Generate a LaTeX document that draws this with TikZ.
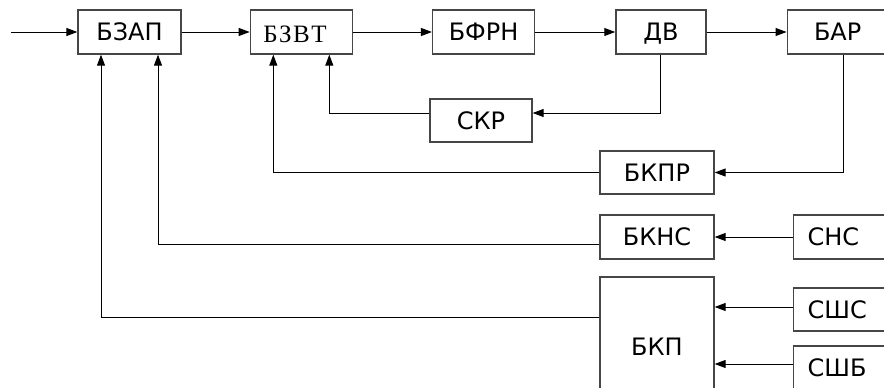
\documentclass[tikz,border=0pt]{standalone}
\usepackage{fontspec}
\setmainfont{DejaVu Sans}
\newfontfamily\serifcyr{Liberation Serif}
\usepackage{tikz}
\usetikzlibrary{positioning,arrows.meta,calc}
\definecolor{blkEdge}{RGB}{70,70,70}

\begin{document}
\begin{tikzpicture}[
    x=1pt, y=-1pt,
    block node/.style={rectangle, draw=blkEdge, line width=1.3pt, minimum width=102pt, minimum height=44pt, inner sep=0pt, text height=17.5pt, text depth=0pt, font=\fontsize{24}{28}\selectfont},
    sensor node/.style={block node, anchor=west, minimum width=114pt, inner xsep=14pt, text width=86pt, align=left},
    flow line/.style={line width=1pt, -{Triangle[length=11pt, width=8pt]}}
]
  \useasboundingbox (0,0) rectangle (884,388);
  \clip (0,0) rectangle (884,388);

  % main chain
  \node[block node, minimum width=103pt] (bzap) at (129.5,32) {БЗАП};
  \node[block node, right=68pt of bzap, inner xsep=13pt, text width=76pt, align=left, text height=20pt, font=\serifcyr\fontsize{25}{30}\selectfont] (bzvt) {Б\kern1.5pt З\kern1.5pt В\kern1.5pt Т};
  \node[block node, right=79pt of bzvt] (bfrn) {БФРН};
  \node[block node, right=80pt of bfrn, minimum width=90pt] (dv) {ДВ};
  \node[block node, right=80pt of dv, minimum width=101pt] (bar) {БАР};
  \coordinate (input) at (11,32);

  % control blocks
  \node[block node, minimum height=43pt] (skr) at (481,120.5) {СКР};
  \node[block node, minimum width=114pt, minimum height=43pt] (bkpr) at (657,172.5) {БКПР};
  \node[block node, minimum width=114pt] (bkns) at (657,237) {БКНС};
  \node[block node, minimum width=114pt, minimum height=140pt] (bkp) at (657,347) {БКП};

  % sensors
  \node[sensor node] (sns) at (793,237) {СНС};
  \node[sensor node, minimum height=43pt] (sshs) at (793,309.5) {СШС};
  \node[sensor node] (sshb) at (793,368) {СШБ};

  \draw[flow line] (input) -- (bzap);
  \draw[flow line] (bzap) -- (bzvt);
  \draw[flow line] (bzvt) -- (bfrn);
  \draw[flow line] (bfrn) -- (dv);
  \draw[flow line] (dv) -- (bar);

  \draw[flow line] (dv.south) |- ($(skr.east)+(0,-7.5)$);
  \draw[flow line] ($(skr.west)+(0,-7.5)$) -| ($(bzvt.south)+(28,0)$);
  \draw[flow line] ($(bar.south)+(5.5,0)$) |- (bkpr.east);
  \draw[flow line] (bkpr.west) -| ($(bzvt.south)+(-28,0)$);
  \draw[flow line] ($(bkns.west)+(0,7)$) -| ($(bzap.south)+(28.5,0)$);
  \draw[flow line] ($(bkp.west)+(0,-30)$) -| ($(bzap.south)+(-28.5,0)$);

  \draw[flow line] (sns.west) -- (sns.west -| bkns.east);
  \draw[flow line] ($(sshs.west)+(0,-2.5)$) -- ($(sshs.west -| bkp.east)+(0,-2.5)$);
  \draw[flow line] ($(sshb.west)+(0,-4)$) -- ($(sshb.west -| bkp.east)+(0,-4)$);
\end{tikzpicture}
\end{document}
